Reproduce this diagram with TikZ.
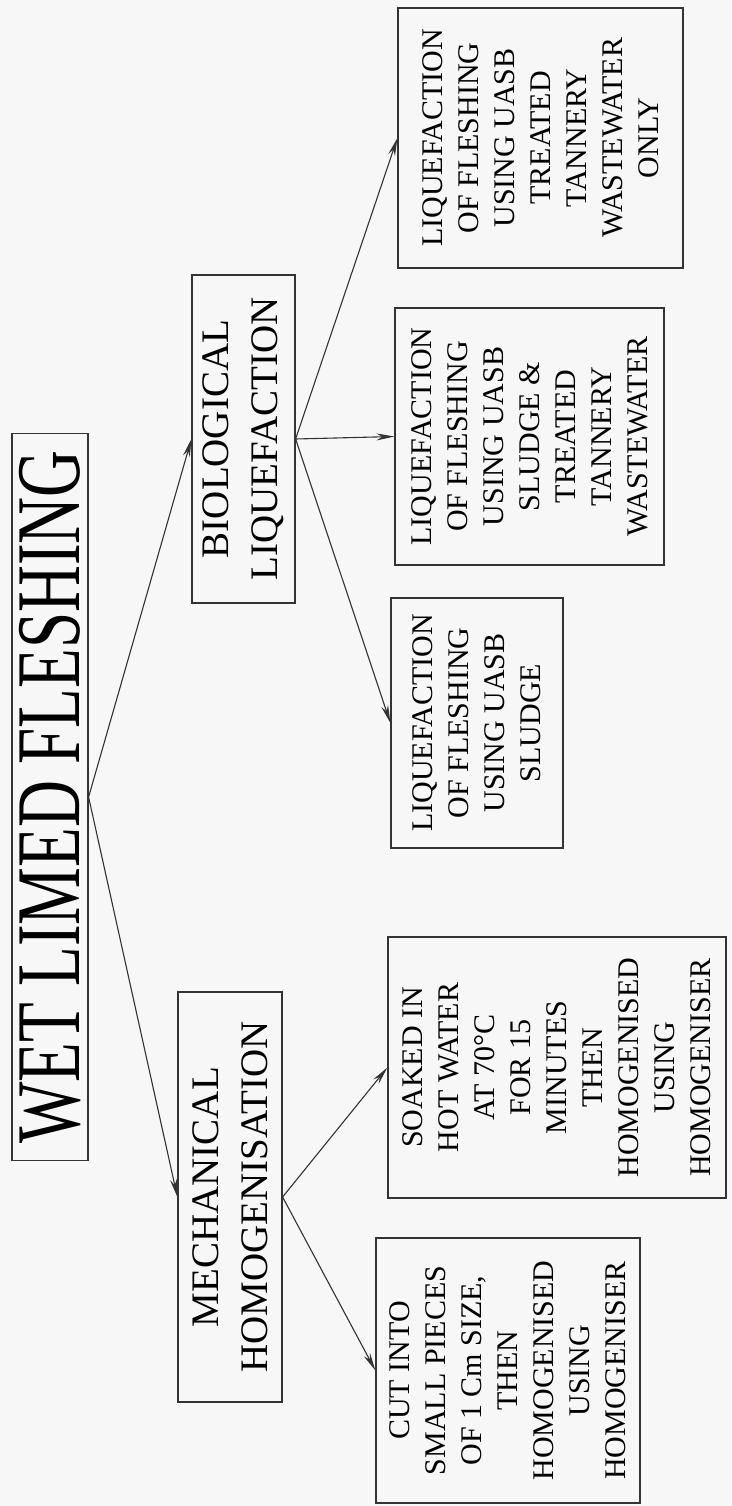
\documentclass[tikz,border=0pt]{standalone}
\usepackage{fontspec}
\setmainfont{Liberation Serif}
\usepackage{graphicx}
\usetikzlibrary{arrows.meta}

\tikzset{
  box/.style={draw=black!80, line width=1.2pt, rotate=90, inner sep=0pt, align=center},
  topbox/.style={box, font=\fontsize{65}{70}\selectfont},
  midbox/.style={box, font=\fontsize{39}{49}\selectfont},
  leafbox/.style={box, font=\fontsize{30}{36}\selectfont},
  link/.style={draw=black!80, line width=1.1pt, -{Stealth[length=18pt,width=7pt]}}
}

\begin{document}
\begin{tikzpicture}[x=1pt, y=-1pt]
 \fill [black!3] (0,0) rectangle (731,1506);
 \useasboundingbox (0,0) rectangle (731,1506);

 % top of the tree
 \node [topbox, minimum width=727pt, minimum height=76pt] (wet) at (50,797)
   {\scalebox{1}[1.4]{WET LIMED FLESHING}};

 % second level
 \node [midbox, minimum width=410pt, minimum height=104pt] (mech) at (230,1197)
   {MECHANICAL\\HOMOGENISATION};
 \node [midbox, minimum width=328pt, minimum height=103pt] (bio) at (243.5,439)
   {BIOLOGICAL\\LIQUEFACTION};

 % leaves under mechanical
 \node [leafbox, minimum width=265pt, minimum height=264pt] (cut) at (508,1370.5)
   {CUT INTO\\SMALL PIECES\\OF 1 Cm SIZE,\\THEN\\HOMOGENISED\\USING\\HOMOGENISER};
 \node [leafbox, minimum width=261pt, minimum height=338pt] (soak) at (557,1067.5)
   {SOAKED IN\\HOT WATER\\AT 70°C\\FOR 15\\MINUTES\\THEN\\HOMOGENISED\\USING\\HOMOGENISER};

 % leaves under biological
 \node [leafbox, minimum width=250pt, minimum height=172pt] (uasb) at (477,723)
   {LIQUEFACTION\\OF FLESHING\\USING UASB\\SLUDGE};
 \node [leafbox, minimum width=257pt, minimum height=269pt] (mix) at (529.5,436.5)
   {LIQUEFACTION\\OF FLESHING\\USING UASB\\SLUDGE \&\\TREATED\\TANNERY\\WASTEWATER};
 \node [leafbox, minimum width=260pt, minimum height=285pt] (only) at (540.5,138)
   {LIQUEFACTION\\OF FLESHING\\USING UASB\\TREATED\\TANNERY\\WASTEWATER\\ONLY};

 \draw [link] (wet.south) -- (mech.north);
 \draw [link] (wet.south) -- (bio.north);

 \draw [link] (mech.south) -- (soak.north);
 \draw [link] (mech.south) -- (cut.north);

 \draw [link] (bio.south) -- (uasb.north);
 \draw [link] (bio.south) -- (mix.north);
 \draw [link] (bio.south) -- (only.north);
\end{tikzpicture}
\end{document}
